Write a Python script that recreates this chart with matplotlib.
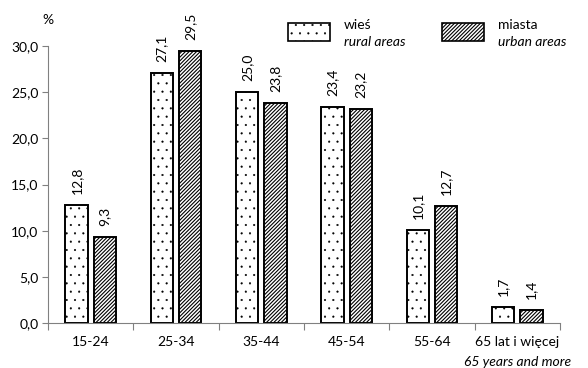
import matplotlib.pyplot as plt
import matplotlib.patches as mpatches
import numpy as np

plt.rcParams['font.family'] = ['Lato', 'DejaVu Sans']
plt.rcParams['font.size'] = 10

categories = ['15-24', '25-34', '35-44', '45-54', '55-64', '65 lat i więcej']
rural = [12.8, 27.1, 25.0, 23.4, 10.1, 1.7]
urban = [9.3, 29.5, 23.8, 23.2, 12.7, 1.4]
yticks = [0, 5, 10, 15, 20, 25, 30]

DOTS = '..'
LINES = '/' * 9

fig = plt.figure(figsize=(5.88, 3.68), dpi=100)
ax = fig.add_axes([48 / 588, 45 / 368, 512 / 588, 277 / 368])

x = np.arange(len(categories))
w = 0.26
off = 0.165
plt.rcParams['hatch.linewidth'] = 0.3
b1 = ax.bar(x - off, rural, w, color='white', edgecolor='black', linewidth=1.4, hatch=DOTS)
plt.rcParams['hatch.linewidth'] = 0.8
b2 = ax.bar(x + off, urban, w, color='white', edgecolor='black', linewidth=1.4, hatch=LINES)

for bars, vals in [(b1, rural), (b2, urban)]:
    for r, v in zip(bars, vals):
        ax.annotate(f'{v:.1f}'.replace('.', ','), (r.get_x() + r.get_width() / 2, v),
                    xytext=(0, 8), textcoords='offset points', rotation=90,
                    ha='center', va='bottom', annotation_clip=False)

ax.set_xlim(-0.5, len(categories) - 0.5)
ax.set_ylim(0, 30)
ax.set_yticks(yticks)
ax.set_yticklabels([f'{t:.1f}'.replace('.', ',') for t in yticks])
ax.set_xticks(np.arange(len(categories) + 1) - 0.5)
ax.set_xticklabels([])
ax.set_xticks(x, minor=True)
ax.set_xticklabels(categories, minor=True)
ax.tick_params(axis='x', which='minor', length=0, pad=9)
ax.tick_params(axis='x', which='major', length=5, color='#808080')
ax.tick_params(axis='y', length=4, color='#808080', pad=3)
for s in ['top', 'right']:
    ax.spines[s].set_visible(False)
for s in ['left', 'bottom']:
    ax.spines[s].set_color('#808080')

ax.annotate('65 years and more', (5, 0), xycoords=('data', 'axes fraction'),
            xytext=(0, -39), textcoords='offset pixels',
            ha='center', va='center', style='italic', annotation_clip=False)
fig.text(48 / 588, 1 - 20 / 368, '%', ha='center', va='center')

# legend
plt.rcParams['hatch.linewidth'] = 0.3
for x0, hatch, top, bottom in [(288, DOTS, 'wieś', 'rural areas'),
                               (442, LINES, 'miasta', 'urban areas')]:
    if hatch == LINES:
        plt.rcParams['hatch.linewidth'] = 0.8
    rect = mpatches.Rectangle((x0 / 588, 1 - 41 / 368), 42 / 588, 18 / 368,
                              transform=fig.transFigure, facecolor='white',
                              edgecolor='black', linewidth=1.2, hatch=hatch)
    fig.add_artist(rect)
    fig.text((x0 + 56) / 588, 1 - 25 / 368, top, ha='left', va='center')
    fig.text((x0 + 56) / 588, 1 - 42 / 368, bottom, ha='left', va='center', style='italic')

fig.savefig('out.png', dpi=100)
